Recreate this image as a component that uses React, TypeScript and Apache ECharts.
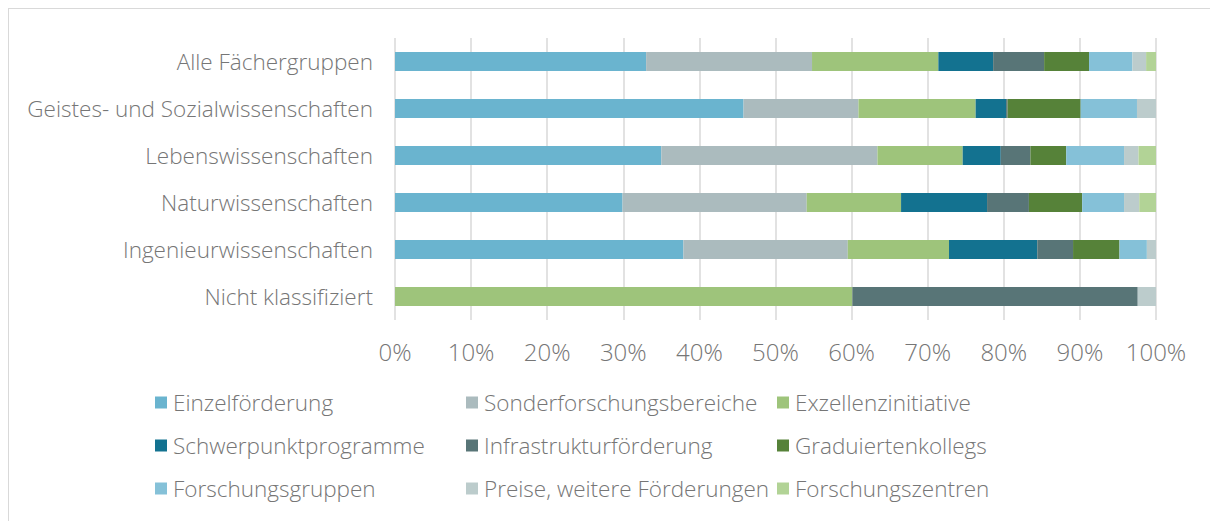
import React, { useEffect, useRef } from "react";
import * as echarts from "echarts";

const categories = [
  "Alle Fächergruppen",
  "Geistes- und Sozialwissenschaften",
  "Lebenswissenschaften",
  "Naturwissenschaften",
  "Ingenieurwissenschaften",
  "Nicht klassifiziert",
];

const seriesNames = [
  "Einzelförderung",
  "Sonderforschungsbereiche",
  "Exzellenzinitiative",
  "Schwerpunktprogramme",
  "Infrastrukturförderung",
  "Graduiertenkollegs",
  "Forschungsgruppen",
  "Preise, weitere Förderungen",
  "Forschungszentren",
];

const einzel = [33.0, 45.8, 35.0, 29.9, 37.9, 0];
const sfb = [21.8, 15.1, 28.4, 24.2, 21.6, 0];
const exzellenz = [16.6, 15.4, 11.2, 12.4, 13.3, 60.1];
const schwerpunkt = [7.2, 4.0, 5.0, 11.3, 11.6, 0];
const infrastruktur = [6.7, 0.2, 3.9, 5.5, 4.7, 37.5];
const graduierten = [5.9, 9.6, 4.7, 7.0, 6.1, 0];
const forschungsgruppen = [5.7, 7.4, 7.6, 5.5, 3.6, 0];
const preise = [1.8, 2.5, 1.9, 2.0, 1.2, 2.4];
const zentren = [1.3, 0, 2.3, 2.2, 0, 0];

const xTicks = { min: 0, max: 100, interval: 10 };

const seriesValues = [
  einzel,
  sfb,
  exzellenz,
  schwerpunkt,
  infrastruktur,
  graduierten,
  forschungsgruppen,
  preise,
  zentren,
];

const colors = [
  "#6ab4cf",
  "#abbbbe",
  "#9ec47b",
  "#137290",
  "#587577",
  "#568239",
  "#85c1d8",
  "#bccccc",
  "#b2d396",
];

const FONT = "'Open Sans', 'Noto Sans', sans-serif";
const TEXT = "#767676";
const WEIGHT = 300;

export default function App() {
  const ref = useRef<HTMLDivElement>(null);

  useEffect(() => {
    if (!ref.current) return;
    const chart = echarts.init(ref.current, null, { renderer: "svg" });

    const legendLefts = [146, 457, 768];
    const legendTops = [382, 425, 468];
    const legends = seriesNames.map((name, i) => ({
      data: [name],
      left: legendLefts[i % 3],
      top: legendTops[Math.floor(i / 3)],
      padding: 0,
      itemWidth: 12,
      itemHeight: 12,
      itemGap: 0,
      icon: "rect",
      selectedMode: false,
      textStyle: {
        fontFamily: FONT,
        fontSize: 22.5,
        fontWeight: WEIGHT,
        color: TEXT,
        padding: [0, 0, 0, 1],
      },
    }));

    chart.setOption({
      animation: false,
      color: colors,
      textStyle: { fontFamily: FONT },
      grid: { left: 386, width: 761, top: 29, height: 282, containLabel: false },
      xAxis: {
        type: "value",
        min: xTicks.min,
        max: xTicks.max,
        interval: xTicks.interval,
        axisLabel: {
          formatter: "{value}%",
          fontFamily: FONT,
          fontSize: 24,
          fontWeight: WEIGHT,
          color: TEXT,
          margin: 19,
        },
        axisLine: { show: false },
        axisTick: { show: false },
        splitLine: { show: true, lineStyle: { color: "#d9d9d9", width: 1.5 } },
      },
      yAxis: {
        type: "category",
        data: categories,
        inverse: true,
        axisLine: { show: false },
        axisTick: { show: false },
        axisLabel: {
          fontFamily: FONT,
          fontSize: 22.5,
          fontWeight: WEIGHT,
          color: TEXT,
          margin: 22,
        },
      },
      legend: legends,
      series: seriesNames.map((name, i) => ({
        name,
        type: "bar",
        stack: "total",
        barWidth: 19,
        data: seriesValues[i],
        itemStyle: { color: colors[i] },
      })),
    });

    return () => chart.dispose();
  }, []);

  return (
    <div
      style={{
        width: 1210,
        height: 520,
        border: "1px solid #d9d9d9",
        boxSizing: "border-box",
        background: "#fff",
      }}
    >
      <div ref={ref} style={{ width: 1208, height: 511 }} />
    </div>
  );
}
